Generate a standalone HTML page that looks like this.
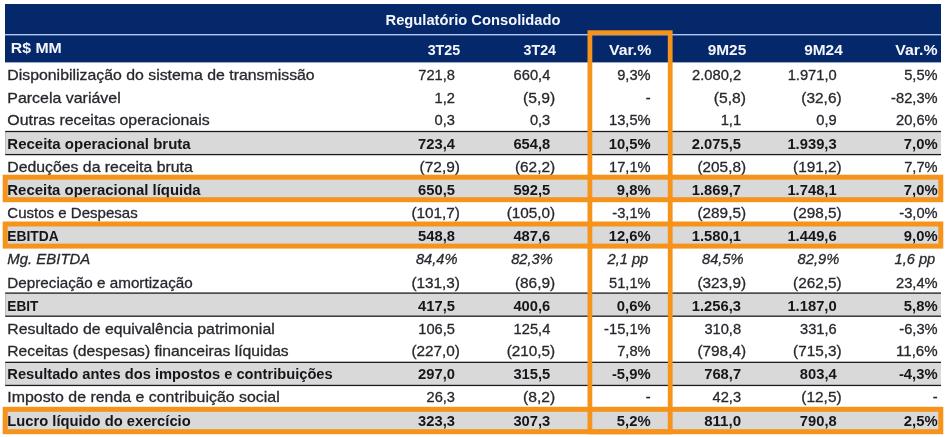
<!DOCTYPE html>
<html lang="pt-BR"><head><meta charset="utf-8"><title>Regulatório Consolidado</title>
<style>html,body{margin:0;padding:0;background:#fff;overflow:hidden}svg{display:block}text{font-family:"Liberation Sans",Arial,sans-serif;font-size:14.2px;fill:#26282d;stroke:#26282d;stroke-width:.28px}.b{font-weight:700;fill:#15161a;stroke:none}.i{font-style:italic}.h{font-weight:700;fill:#f4f6fb;stroke:none}</style></head><body>
<svg width="946" height="437" viewBox="0 0 946 437">
<rect width="946" height="437" fill="#fff"/>
<rect x="5" y="4" width="936" height="58.40" fill="#05286b"/>
<rect x="5" y="34.0" width="936" height="1.4" fill="#b0c6f2"/>
<rect x="5.2" y="130.85" width="935.8" height="24.39" fill="#1c1c1c"/>
<rect x="5.2" y="132.15" width="935.8" height="21.79" fill="#d9d9d9"/>
<rect x="5.2" y="177.03" width="935.8" height="24.39" fill="#1c1c1c"/>
<rect x="5.2" y="178.32" width="935.8" height="21.79" fill="#d9d9d9"/>
<rect x="5.2" y="223.20" width="935.8" height="24.39" fill="#1c1c1c"/>
<rect x="5.2" y="224.50" width="935.8" height="21.79" fill="#d9d9d9"/>
<rect x="5.2" y="292.45" width="935.8" height="24.39" fill="#1c1c1c"/>
<rect x="5.2" y="293.75" width="935.8" height="21.79" fill="#d9d9d9"/>
<rect x="5.2" y="361.70" width="935.8" height="24.39" fill="#1c1c1c"/>
<rect x="5.2" y="363.00" width="935.8" height="21.79" fill="#d9d9d9"/>
<rect x="5.2" y="407.88" width="935.8" height="24.39" fill="#1c1c1c"/>
<rect x="5.2" y="409.18" width="935.8" height="21.79" fill="#d9d9d9"/>
<text class="h" x="473" y="25" text-anchor="middle" textLength="175" lengthAdjust="spacingAndGlyphs">Regulatório Consolidado</text>
<text class="h" x="10.8" y="52.6" textLength="51" lengthAdjust="spacingAndGlyphs">R$ MM</text>
<text class="h" x="460.2" y="54.7" text-anchor="end" textLength="32.5" lengthAdjust="spacingAndGlyphs">3T25</text>
<text class="h" x="556.0" y="54.7" text-anchor="end" textLength="32.5" lengthAdjust="spacingAndGlyphs">3T24</text>
<text class="h" x="651.3" y="54.7" text-anchor="end" textLength="42.3" lengthAdjust="spacingAndGlyphs">Var.%</text>
<text class="h" x="746.3" y="54.7" text-anchor="end" textLength="38.6" lengthAdjust="spacingAndGlyphs">9M25</text>
<text class="h" x="842.8" y="54.7" text-anchor="end" textLength="38.6" lengthAdjust="spacingAndGlyphs">9M24</text>
<text class="h" x="937.6" y="54.7" text-anchor="end" textLength="42.3" lengthAdjust="spacingAndGlyphs">Var.%</text>
<text x="7.3" y="80" textLength="307.4" lengthAdjust="spacingAndGlyphs">Disponibilização do sistema de transmissão</text>
<text x="455.0" y="80" text-anchor="end" textLength="36.7" lengthAdjust="spacingAndGlyphs">721,8</text>
<text x="550.3" y="80" text-anchor="end" textLength="36.7" lengthAdjust="spacingAndGlyphs">660,4</text>
<text x="650.6" y="80" text-anchor="end" textLength="33.4" lengthAdjust="spacingAndGlyphs">9,3%</text>
<text x="741.1" y="80" text-anchor="end" textLength="49.0" lengthAdjust="spacingAndGlyphs">2.080,2</text>
<text x="836.7" y="80" text-anchor="end" textLength="49.0" lengthAdjust="spacingAndGlyphs">1.971,0</text>
<text x="937.6" y="80" text-anchor="end" textLength="33.4" lengthAdjust="spacingAndGlyphs">5,5%</text>
<text x="7.3" y="103" textLength="113.4" lengthAdjust="spacingAndGlyphs">Parcela variável</text>
<text x="455.0" y="103" text-anchor="end" textLength="20.4" lengthAdjust="spacingAndGlyphs">1,2</text>
<text x="555.2" y="103" text-anchor="end" textLength="32.2" lengthAdjust="spacingAndGlyphs">(5,9)</text>
<text x="650.6" y="103" text-anchor="end" textLength="4.9" lengthAdjust="spacingAndGlyphs">-</text>
<text x="746.0" y="103" text-anchor="end" textLength="32.2" lengthAdjust="spacingAndGlyphs">(5,8)</text>
<text x="841.6" y="103" text-anchor="end" textLength="40.3" lengthAdjust="spacingAndGlyphs">(32,6)</text>
<text x="937.6" y="103" text-anchor="end" textLength="46.5" lengthAdjust="spacingAndGlyphs">-82,3%</text>
<text x="7.3" y="125" textLength="202.4" lengthAdjust="spacingAndGlyphs">Outras receitas operacionais</text>
<text x="455.0" y="125" text-anchor="end" textLength="20.4" lengthAdjust="spacingAndGlyphs">0,3</text>
<text x="550.3" y="125" text-anchor="end" textLength="20.4" lengthAdjust="spacingAndGlyphs">0,3</text>
<text x="650.6" y="125" text-anchor="end" textLength="41.6" lengthAdjust="spacingAndGlyphs">13,5%</text>
<text x="741.1" y="125" text-anchor="end" textLength="20.4" lengthAdjust="spacingAndGlyphs">1,1</text>
<text x="836.7" y="125" text-anchor="end" textLength="20.4" lengthAdjust="spacingAndGlyphs">0,9</text>
<text x="937.6" y="125" text-anchor="end" textLength="41.6" lengthAdjust="spacingAndGlyphs">20,6%</text>
<text class="b" x="7.3" y="149" textLength="183.4" lengthAdjust="spacingAndGlyphs">Receita operacional bruta</text>
<text class="b" x="455.0" y="149" text-anchor="end" textLength="36.9" lengthAdjust="spacingAndGlyphs">723,4</text>
<text class="b" x="550.3" y="149" text-anchor="end" textLength="36.9" lengthAdjust="spacingAndGlyphs">654,8</text>
<text class="b" x="650.6" y="149" text-anchor="end" textLength="41.9" lengthAdjust="spacingAndGlyphs">10,5%</text>
<text class="b" x="741.1" y="149" text-anchor="end" textLength="49.3" lengthAdjust="spacingAndGlyphs">2.075,5</text>
<text class="b" x="836.7" y="149" text-anchor="end" textLength="49.3" lengthAdjust="spacingAndGlyphs">1.939,3</text>
<text class="b" x="937.6" y="149" text-anchor="end" textLength="33.8" lengthAdjust="spacingAndGlyphs">7,0%</text>
<text x="7.3" y="172" textLength="185.4" lengthAdjust="spacingAndGlyphs">Deduções da receita bruta</text>
<text x="459.9" y="172" text-anchor="end" textLength="40.3" lengthAdjust="spacingAndGlyphs">(72,9)</text>
<text x="555.2" y="172" text-anchor="end" textLength="40.3" lengthAdjust="spacingAndGlyphs">(62,2)</text>
<text x="650.6" y="172" text-anchor="end" textLength="41.6" lengthAdjust="spacingAndGlyphs">17,1%</text>
<text x="746.0" y="172" text-anchor="end" textLength="48.5" lengthAdjust="spacingAndGlyphs">(205,8)</text>
<text x="841.6" y="172" text-anchor="end" textLength="48.5" lengthAdjust="spacingAndGlyphs">(191,2)</text>
<text x="937.6" y="172" text-anchor="end" textLength="33.4" lengthAdjust="spacingAndGlyphs">7,7%</text>
<text class="b" x="7.3" y="195" textLength="193.4" lengthAdjust="spacingAndGlyphs">Receita operacional líquida</text>
<text class="b" x="455.0" y="195" text-anchor="end" textLength="36.9" lengthAdjust="spacingAndGlyphs">650,5</text>
<text class="b" x="550.3" y="195" text-anchor="end" textLength="36.9" lengthAdjust="spacingAndGlyphs">592,5</text>
<text class="b" x="650.6" y="195" text-anchor="end" textLength="33.8" lengthAdjust="spacingAndGlyphs">9,8%</text>
<text class="b" x="741.1" y="195" text-anchor="end" textLength="49.3" lengthAdjust="spacingAndGlyphs">1.869,7</text>
<text class="b" x="836.7" y="195" text-anchor="end" textLength="49.3" lengthAdjust="spacingAndGlyphs">1.748,1</text>
<text class="b" x="937.6" y="195" text-anchor="end" textLength="33.8" lengthAdjust="spacingAndGlyphs">7,0%</text>
<text x="7.3" y="218" textLength="130.4" lengthAdjust="spacingAndGlyphs">Custos e Despesas</text>
<text x="459.9" y="218" text-anchor="end" textLength="48.5" lengthAdjust="spacingAndGlyphs">(101,7)</text>
<text x="555.2" y="218" text-anchor="end" textLength="48.5" lengthAdjust="spacingAndGlyphs">(105,0)</text>
<text x="650.6" y="218" text-anchor="end" textLength="38.3" lengthAdjust="spacingAndGlyphs">-3,1%</text>
<text x="746.0" y="218" text-anchor="end" textLength="48.5" lengthAdjust="spacingAndGlyphs">(289,5)</text>
<text x="841.6" y="218" text-anchor="end" textLength="48.5" lengthAdjust="spacingAndGlyphs">(298,5)</text>
<text x="937.6" y="218" text-anchor="end" textLength="38.3" lengthAdjust="spacingAndGlyphs">-3,0%</text>
<text class="b" x="7.3" y="241" textLength="51.4" lengthAdjust="spacingAndGlyphs">EBITDA</text>
<text class="b" x="455.0" y="241" text-anchor="end" textLength="36.9" lengthAdjust="spacingAndGlyphs">548,8</text>
<text class="b" x="550.3" y="241" text-anchor="end" textLength="36.9" lengthAdjust="spacingAndGlyphs">487,6</text>
<text class="b" x="650.6" y="241" text-anchor="end" textLength="41.9" lengthAdjust="spacingAndGlyphs">12,6%</text>
<text class="b" x="741.1" y="241" text-anchor="end" textLength="49.3" lengthAdjust="spacingAndGlyphs">1.580,1</text>
<text class="b" x="836.7" y="241" text-anchor="end" textLength="49.3" lengthAdjust="spacingAndGlyphs">1.449,6</text>
<text class="b" x="937.6" y="241" text-anchor="end" textLength="33.8" lengthAdjust="spacingAndGlyphs">9,0%</text>
<text class="i" x="7.3" y="264" textLength="83.0" lengthAdjust="spacingAndGlyphs">Mg. EBITDA</text>
<text class="i" x="457.5" y="264" text-anchor="end" textLength="41.6" lengthAdjust="spacingAndGlyphs">84,4%</text>
<text class="i" x="552.8" y="264" text-anchor="end" textLength="41.6" lengthAdjust="spacingAndGlyphs">82,3%</text>
<text class="i" x="648.2" y="264" text-anchor="end" textLength="40.6" lengthAdjust="spacingAndGlyphs">2,1 pp</text>
<text class="i" x="743.6" y="264" text-anchor="end" textLength="41.6" lengthAdjust="spacingAndGlyphs">84,5%</text>
<text class="i" x="839.2" y="264" text-anchor="end" textLength="41.6" lengthAdjust="spacingAndGlyphs">82,9%</text>
<text class="i" x="935.2" y="264" text-anchor="end" textLength="40.6" lengthAdjust="spacingAndGlyphs">1,6 pp</text>
<text x="7.3" y="288" textLength="185.4" lengthAdjust="spacingAndGlyphs">Depreciação e amortização</text>
<text x="459.9" y="288" text-anchor="end" textLength="48.5" lengthAdjust="spacingAndGlyphs">(131,3)</text>
<text x="555.2" y="288" text-anchor="end" textLength="40.3" lengthAdjust="spacingAndGlyphs">(86,9)</text>
<text x="650.6" y="288" text-anchor="end" textLength="41.6" lengthAdjust="spacingAndGlyphs">51,1%</text>
<text x="746.0" y="288" text-anchor="end" textLength="48.5" lengthAdjust="spacingAndGlyphs">(323,9)</text>
<text x="841.6" y="288" text-anchor="end" textLength="48.5" lengthAdjust="spacingAndGlyphs">(262,5)</text>
<text x="937.6" y="288" text-anchor="end" textLength="41.6" lengthAdjust="spacingAndGlyphs">23,4%</text>
<text class="b" x="7.3" y="311" textLength="31.1" lengthAdjust="spacingAndGlyphs">EBIT</text>
<text class="b" x="455.0" y="311" text-anchor="end" textLength="36.9" lengthAdjust="spacingAndGlyphs">417,5</text>
<text class="b" x="550.3" y="311" text-anchor="end" textLength="36.9" lengthAdjust="spacingAndGlyphs">400,6</text>
<text class="b" x="650.6" y="311" text-anchor="end" textLength="33.8" lengthAdjust="spacingAndGlyphs">0,6%</text>
<text class="b" x="741.1" y="311" text-anchor="end" textLength="49.3" lengthAdjust="spacingAndGlyphs">1.256,3</text>
<text class="b" x="836.7" y="311" text-anchor="end" textLength="49.3" lengthAdjust="spacingAndGlyphs">1.187,0</text>
<text class="b" x="937.6" y="311" text-anchor="end" textLength="33.8" lengthAdjust="spacingAndGlyphs">5,8%</text>
<text x="7.3" y="334" textLength="267.4" lengthAdjust="spacingAndGlyphs">Resultado de equivalência patrimonial</text>
<text x="455.0" y="334" text-anchor="end" textLength="36.7" lengthAdjust="spacingAndGlyphs">106,5</text>
<text x="550.3" y="334" text-anchor="end" textLength="36.7" lengthAdjust="spacingAndGlyphs">125,4</text>
<text x="650.6" y="334" text-anchor="end" textLength="46.5" lengthAdjust="spacingAndGlyphs">-15,1%</text>
<text x="741.1" y="334" text-anchor="end" textLength="36.7" lengthAdjust="spacingAndGlyphs">310,8</text>
<text x="836.7" y="334" text-anchor="end" textLength="36.7" lengthAdjust="spacingAndGlyphs">331,6</text>
<text x="937.6" y="334" text-anchor="end" textLength="38.3" lengthAdjust="spacingAndGlyphs">-6,3%</text>
<text x="7.3" y="356" textLength="281.4" lengthAdjust="spacingAndGlyphs">Receitas (despesas) financeiras líquidas</text>
<text x="459.9" y="356" text-anchor="end" textLength="48.5" lengthAdjust="spacingAndGlyphs">(227,0)</text>
<text x="555.2" y="356" text-anchor="end" textLength="48.5" lengthAdjust="spacingAndGlyphs">(210,5)</text>
<text x="650.6" y="356" text-anchor="end" textLength="33.4" lengthAdjust="spacingAndGlyphs">7,8%</text>
<text x="746.0" y="356" text-anchor="end" textLength="48.5" lengthAdjust="spacingAndGlyphs">(798,4)</text>
<text x="841.6" y="356" text-anchor="end" textLength="48.5" lengthAdjust="spacingAndGlyphs">(715,3)</text>
<text x="937.6" y="356" text-anchor="end" textLength="41.6" lengthAdjust="spacingAndGlyphs">11,6%</text>
<text class="b" x="7.3" y="379" textLength="325.4" lengthAdjust="spacingAndGlyphs">Resultado antes dos impostos e contribuições</text>
<text class="b" x="455.0" y="379" text-anchor="end" textLength="36.9" lengthAdjust="spacingAndGlyphs">297,0</text>
<text class="b" x="550.3" y="379" text-anchor="end" textLength="36.9" lengthAdjust="spacingAndGlyphs">315,5</text>
<text class="b" x="650.6" y="379" text-anchor="end" textLength="38.7" lengthAdjust="spacingAndGlyphs">-5,9%</text>
<text class="b" x="741.1" y="379" text-anchor="end" textLength="36.9" lengthAdjust="spacingAndGlyphs">768,7</text>
<text class="b" x="836.7" y="379" text-anchor="end" textLength="36.9" lengthAdjust="spacingAndGlyphs">803,4</text>
<text class="b" x="937.6" y="379" text-anchor="end" textLength="38.7" lengthAdjust="spacingAndGlyphs">-4,3%</text>
<text x="7.3" y="402" textLength="272.4" lengthAdjust="spacingAndGlyphs">Imposto de renda e contribuição social</text>
<text x="455.0" y="402" text-anchor="end" textLength="28.5" lengthAdjust="spacingAndGlyphs">26,3</text>
<text x="555.2" y="402" text-anchor="end" textLength="32.2" lengthAdjust="spacingAndGlyphs">(8,2)</text>
<text x="650.6" y="402" text-anchor="end" textLength="4.9" lengthAdjust="spacingAndGlyphs">-</text>
<text x="741.1" y="402" text-anchor="end" textLength="28.5" lengthAdjust="spacingAndGlyphs">42,3</text>
<text x="841.6" y="402" text-anchor="end" textLength="40.3" lengthAdjust="spacingAndGlyphs">(12,5)</text>
<text x="937.6" y="402" text-anchor="end" textLength="4.9" lengthAdjust="spacingAndGlyphs">-</text>
<text class="b" x="7.3" y="426" textLength="183.4" lengthAdjust="spacingAndGlyphs">Lucro líquido do exercício</text>
<text class="b" x="455.0" y="426" text-anchor="end" textLength="36.9" lengthAdjust="spacingAndGlyphs">323,3</text>
<text class="b" x="550.3" y="426" text-anchor="end" textLength="36.9" lengthAdjust="spacingAndGlyphs">307,3</text>
<text class="b" x="650.6" y="426" text-anchor="end" textLength="33.8" lengthAdjust="spacingAndGlyphs">5,2%</text>
<text class="b" x="741.1" y="426" text-anchor="end" textLength="36.9" lengthAdjust="spacingAndGlyphs">811,0</text>
<text class="b" x="836.7" y="426" text-anchor="end" textLength="36.9" lengthAdjust="spacingAndGlyphs">790,8</text>
<text class="b" x="937.6" y="426" text-anchor="end" textLength="33.8" lengthAdjust="spacingAndGlyphs">2,5%</text>
<rect x="589.90" y="32.70" width="80.30" height="399.20" fill="none" stroke="#f5931b" stroke-width="4.8"/>
<rect x="5.20" y="177.20" width="935.60" height="22.50" fill="none" stroke="#f5931b" stroke-width="5.0"/>
<rect x="5.20" y="224.00" width="935.60" height="22.10" fill="none" stroke="#f5931b" stroke-width="5.0"/>
<rect x="5.20" y="409.30" width="935.60" height="22.40" fill="none" stroke="#f5931b" stroke-width="5.0"/>
</svg></body></html>
